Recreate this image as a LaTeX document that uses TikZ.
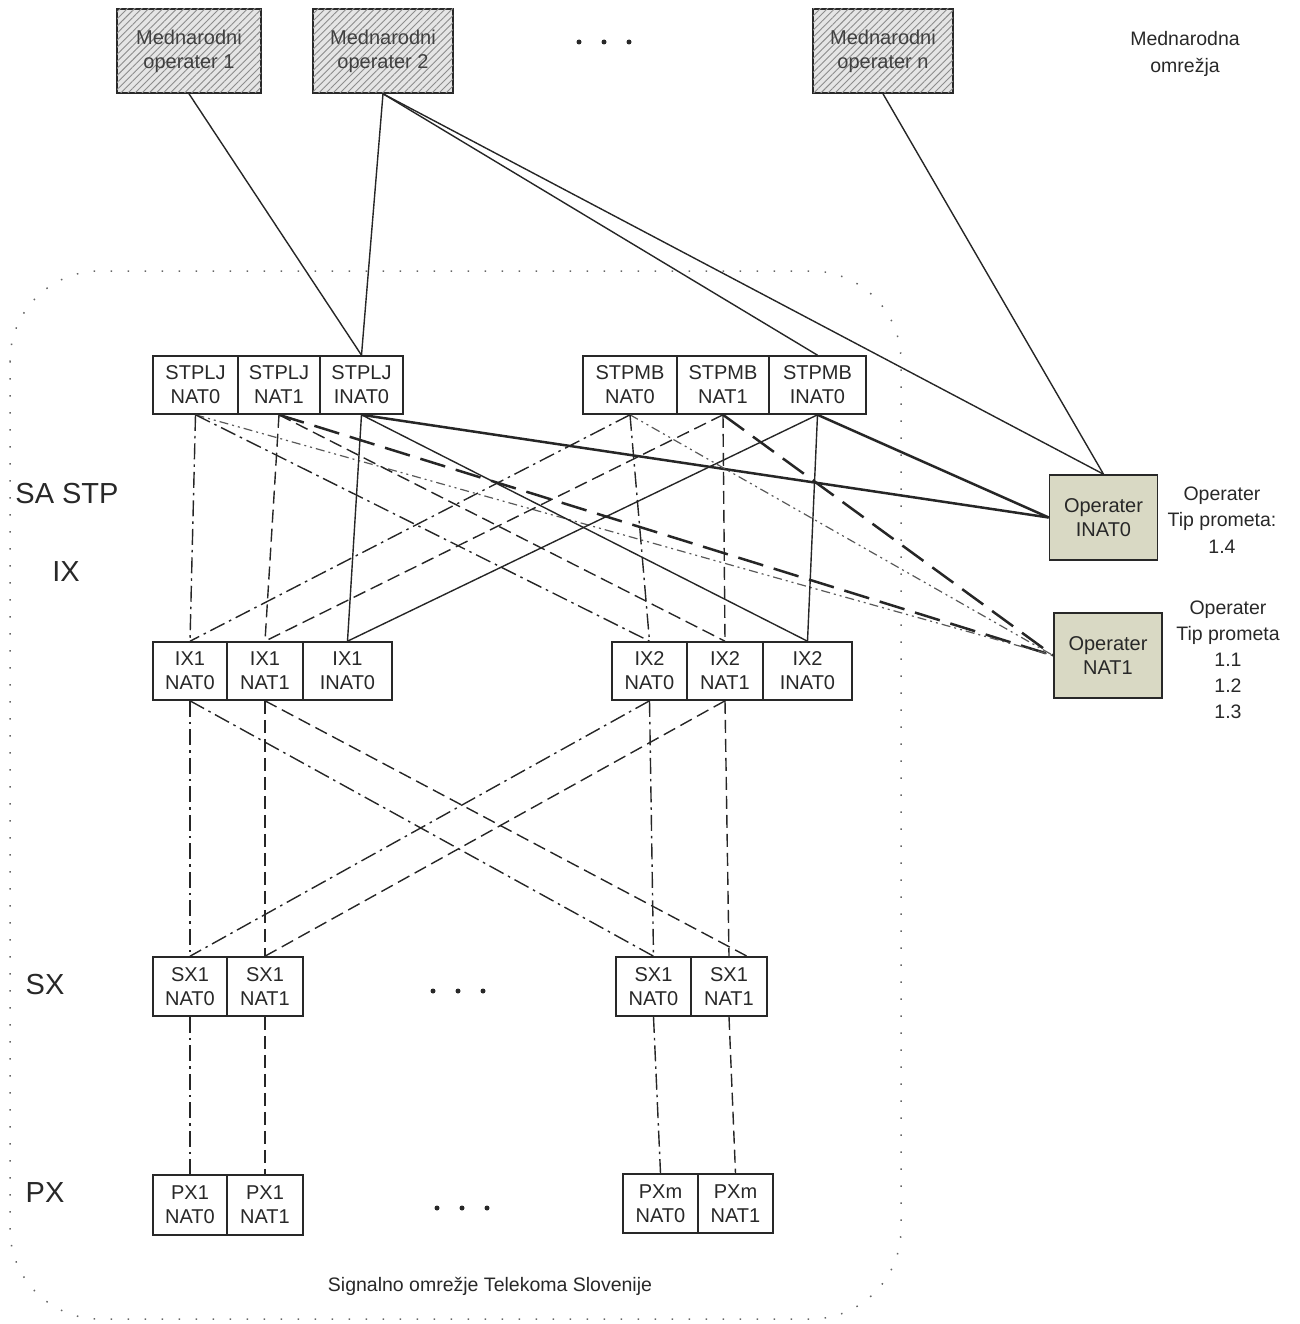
\documentclass[tikz,border=0pt]{standalone}
\usepackage{fontspec}
\setmainfont{Liberation Sans}
\usetikzlibrary{patterns.meta,calc}
\definecolor{opfill}{RGB}{217,217,196}
\definecolor{ink}{RGB}{40,40,40}
\tikzset{
  cell/.style={draw=ink, line width=1.6pt, fill=white, inner sep=0pt, align=center,
    font=\fontsize{20}{24}\selectfont, text=ink},
  intl/.style={draw=ink, line width=1.6pt, fill=black!10,
    postaction={pattern={Lines[angle=45,distance=5pt,line width=0.9pt]}, pattern color=black!45},
    minimum height=84pt, inner sep=0pt, align=center, font=\fontsize{20}{24}\selectfont, text=black!75},
  opbox/.style={draw=ink, line width=1.6pt, fill=opfill, minimum width=108pt, minimum height=85pt,
    inner sep=0pt, align=center, font=\fontsize{20}{24}\selectfont, text=ink},
  lbl/.style={align=center, font=\fontsize{19.5}{26.5}\selectfont, text=ink},
  biglbl/.style={font=\fontsize{29}{32}\selectfont, text=ink},
  lnk/.style={draw=black!85, line width=1.4pt},
  lsolid/.style={lnk},
  ldashdot/.style={lnk, dash pattern=on 16pt off 5pt on 2.5pt off 5pt},
  ldashed/.style={lnk, dash pattern=on 13pt off 6pt},
  lthick/.style={lnk, line width=2.5pt},
  lthickdash/.style={lnk, line width=2.5pt, dash pattern=on 26pt off 11pt},
  ldashdotdot/.style={draw=black!65, line width=1.2pt, dash pattern=on 9pt off 4pt on 2pt off 4pt on 2pt off 4pt},
  bound/.style={draw=black!60, line width=1.5pt, dash pattern=on 1.5pt off 15.5pt, rounded corners=90pt},
  dotmark/.style={fill=ink, circle, inner sep=0pt, minimum size=5pt}
}
\begin{document}
\begin{tikzpicture}[x=1pt,y=-1pt]
\useasboundingbox (0,0) rectangle (1299,1324);

% boundary of national network
\draw[bound] (10,271) rectangle (901,1319);

% international operators
\node[intl, minimum width=144pt] (op1) at (189,51) {Mednarodni\\operater 1};
\node[intl, minimum width=140pt] (op2) at (383,51) {Mednarodni\\operater 2};
\node[intl, minimum width=140pt] (opn) at (883,51) {Mednarodni\\operater n};
\node[dotmark] (td1) at (579,42) {};
\node[dotmark] (td2) at (604,42) {};
\node[dotmark] (td3) at (629,42) {};
\node[lbl] (mo) at (1185,54) {Mednarodna\\omrežja};

% STP level
\node[cell, minimum width=85pt, minimum height=58pt] (lj0) at (195.5,385) {STPLJ\\NAT0};
\node[cell, minimum width=82pt, minimum height=58pt] (lj1) at (279,385) {STPLJ\\NAT1};
\node[cell, minimum width=83pt, minimum height=58pt] (lji) at (361.5,385) {STPLJ\\INAT0};
\node[cell, minimum width=94pt, minimum height=58pt] (mb0) at (630,385) {STPMB\\NAT0};
\node[cell, minimum width=92pt, minimum height=58pt] (mb1) at (723,385) {STPMB\\NAT1};
\node[cell, minimum width=97pt, minimum height=58pt] (mbi) at (817.5,385) {STPMB\\INAT0};

% IX level
\node[cell, minimum width=74pt, minimum height=58pt] (ix10) at (190,671) {IX1\\NAT0};
\node[cell, minimum width=76pt, minimum height=58pt] (ix11) at (265,671) {IX1\\NAT1};
\node[cell, minimum width=89pt, minimum height=58pt] (ix1i) at (347.5,671) {IX1\\INAT0};
\node[cell, minimum width=75pt, minimum height=58pt] (ix20) at (649.5,671) {IX2\\NAT0};
\node[cell, minimum width=76pt, minimum height=58pt] (ix21) at (725,671) {IX2\\NAT1};
\node[cell, minimum width=89pt, minimum height=58pt] (ix2i) at (807.5,671) {IX2\\INAT0};

% SX level
\node[cell, minimum width=74pt, minimum height=59pt] (sx10) at (190,986.5) {SX1\\NAT0};
\node[cell, minimum width=76pt, minimum height=59pt] (sx11) at (265,986.5) {SX1\\NAT1};
\node[cell, minimum width=75pt, minimum height=59pt] (sxr0) at (653.5,986.5) {SX1\\NAT0};
\node[cell, minimum width=76pt, minimum height=59pt] (sxr1) at (729,986.5) {SX1\\NAT1};
\node[dotmark] (md1) at (433,991) {};
\node[dotmark] (md2) at (458,991) {};
\node[dotmark] (md3) at (483,991) {};

% PX level
\node[cell, minimum width=74pt, minimum height=60pt] (px10) at (190,1205) {PX1\\NAT0};
\node[cell, minimum width=76pt, minimum height=60pt] (px11) at (265,1205) {PX1\\NAT1};
\node[cell, minimum width=75pt, minimum height=59pt] (pxm0) at (660.5,1203.5) {PXm\\NAT0};
\node[cell, minimum width=75pt, minimum height=59pt] (pxm1) at (735.5,1203.5) {PXm\\NAT1};
\node[dotmark] (bd1) at (437,1208) {};
\node[dotmark] (bd2) at (462,1208) {};
\node[dotmark] (bd3) at (487,1208) {};

% other operators
\node[opbox] (opI) at (1103.5,517.5) {Operater\\INAT0};
\node[opbox] (opN) at (1108,655.5) {Operater\\NAT1};
\node[lbl] (opIl) at (1222,520) {Operater\\Tip prometa:\\1.4};
\node[lbl, font=\fontsize{19.5}{26}\selectfont] (opNl) at (1228,660) {Operater\\Tip prometa\\1.1\\1.2\\1.3};

% level labels
\node[biglbl] (lsa) at (67,494) {SA STP};
\node[biglbl] (lix) at (66,572) {IX};
\node[biglbl] (lsx) at (45,985) {SX};
\node[biglbl] (lpx) at (45,1193) {PX};
\node[lbl] (sig) at (490,1286) {Signalno omrežje Telekoma Slovenije};

% international links
\draw[lsolid] (op1.south) -- (lji.north);
\draw[lsolid] (op2.south) -- (lji.north);
\draw[lsolid] (op2.south) -- (mbi.north);
\draw[lsolid] (op2.south) -- (opI.north);
\draw[lsolid] (opn.south) -- (opI.north);

% STP -> other operators
\draw[lthick] (lji.south) -- (opI.west);
\draw[lthick] (mbi.south) -- (opI.west);
\draw[lthickdash] (lj1.south) -- (opN.west);
\draw[lthickdash] (mb1.south) -- (opN.west);
\draw[ldashdotdot] (lj0.south) -- (opN.west);
\draw[ldashdotdot] (mb0.south) -- (opN.west);

% STP <-> IX mesh
\draw[ldashdot] (lj0.south) -- (ix10.north);
\draw[ldashdot] (lj0.south) -- (ix20.north);
\draw[ldashdot] (mb0.south) -- (ix20.north);
\draw[ldashdot] (mb0.south) -- (ix10.north);
\draw[ldashed] (lj1.south) -- (ix11.north);
\draw[ldashed] (lj1.south) -- (ix21.north);
\draw[ldashed] (mb1.south) -- (ix21.north);
\draw[ldashed] (mb1.south) -- (ix11.north);
\draw[lsolid] (lji.south) -- (ix1i.north);
\draw[lsolid] (lji.south) -- (ix2i.north);
\draw[lsolid] (mbi.south) -- (ix2i.north);
\draw[lsolid] (mbi.south) -- (ix1i.north);

% IX <-> SX mesh
\draw[ldashdot] (ix10.south) -- (sx10.north);
\draw[ldashdot] (ix10.south) -- (sxr0.north);
\draw[ldashdot] (ix20.south) -- (sxr0.north);
\draw[ldashdot] (ix20.south) -- (sx10.north);
\draw[ldashed] (ix11.south) -- (sx11.north);
\draw[ldashed] (ix11.south) -- ([xshift=18pt]sxr1.north);
\draw[ldashed] (ix21.south) -- (sxr1.north);
\draw[ldashed] (ix21.south) -- (sx11.north);

% SX <-> PX
\draw[ldashdot] (sx10.south) -- (px10.north);
\draw[ldashed] (sx11.south) -- (px11.north);
\draw[ldashdot] (sxr0.south) -- (pxm0.north);
\draw[ldashed] (sxr1.south) -- (pxm1.north);
\end{tikzpicture}
\end{document}
